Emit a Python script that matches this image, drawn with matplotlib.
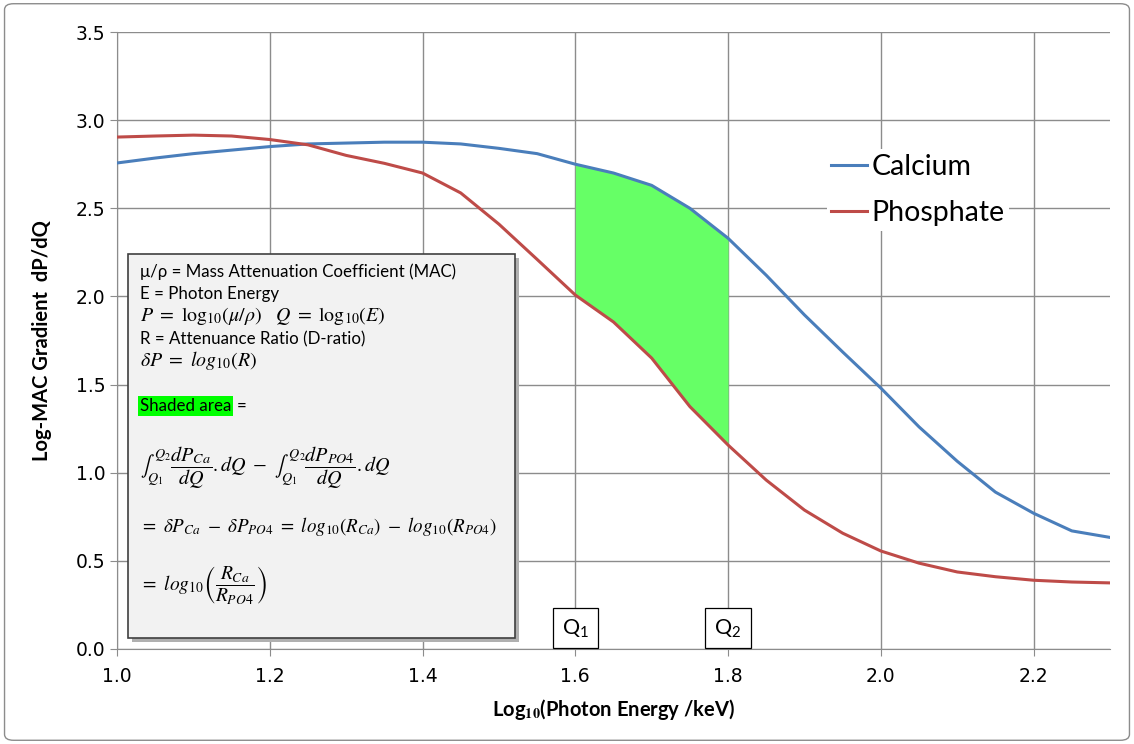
import numpy as np
import matplotlib
matplotlib.use('Agg')
import matplotlib.pyplot as plt
from matplotlib.patches import Rectangle, FancyBboxPatch

# log10 photon energy (keV)
q = [1.00, 1.05, 1.10, 1.15, 1.20, 1.25, 1.30, 1.35, 1.40, 1.45, 1.50, 1.55,
     1.60, 1.65, 1.70, 1.75, 1.80, 1.85, 1.90, 1.95, 2.00, 2.05, 2.10, 2.15,
     2.20, 2.25, 2.30]
calcium = [2.757, 2.785, 2.81, 2.83, 2.85, 2.865, 2.87, 2.875, 2.875, 2.865,
           2.84, 2.81, 2.75, 2.70, 2.63, 2.50, 2.33, 2.12, 1.895, 1.685, 1.48,
           1.26, 1.065, 0.89, 0.77, 0.67, 0.633]
phosphate = [2.904, 2.91, 2.915, 2.91, 2.89, 2.86, 2.80, 2.755, 2.70, 2.587,
             2.41, 2.21, 2.008, 1.855, 1.65, 1.375, 1.157, 0.958, 0.788,
             0.657, 0.556, 0.487, 0.437, 0.41, 0.39, 0.38, 0.375]
q1, q2 = 1.6, 1.8

blue = '#4a7ebb'
red = '#be4b48'

plt.rcParams['mathtext.fontset'] = 'stix'
plt.rcParams['font.family'] = ['Lato', 'DejaVu Sans']

fig = plt.figure(figsize=(11.34, 7.44), dpi=100)
ax = fig.add_axes([117 / 1134, 95 / 744, 993 / 1134, 617 / 744])

# outer chart border
fig.patches.append(FancyBboxPatch((0.004, 0.005), 0.992, 0.99, boxstyle='round,pad=0,rounding_size=0.008',
                                  transform=fig.transFigure, fill=False, edgecolor='#8c8c8c', lw=1.0))

qa = np.array(q)
ca = np.array(calcium)
pa = np.array(phosphate)
m = (qa >= q1 - 1e-9) & (qa <= q2 + 1e-9)
ax.fill_between(qa[m], pa[m], ca[m], color='#66ff66', lw=0, zorder=2)

ax.plot(q, calcium, color=blue, lw=2.2, label='Calcium', zorder=3)
ax.plot(q, phosphate, color=red, lw=2.2, label='Phosphate', zorder=3)

ax.set_xlim(1.0, 2.3)
ax.set_ylim(0, 3.5)
ax.set_xticks(np.arange(1.0, 2.21, 0.2))
ax.set_yticks(np.arange(0, 3.51, 0.5))
ax.xaxis.set_major_formatter(matplotlib.ticker.FormatStrFormatter('%.1f'))
ax.yaxis.set_major_formatter(matplotlib.ticker.FormatStrFormatter('%.1f'))
ax.grid(True, color='#8c8c8c', lw=1.0, zorder=0)
ax.set_axisbelow(True)
for s in ['top', 'right']:
    ax.spines[s].set_visible(False)
for s in ['left', 'bottom']:
    ax.spines[s].set_color('#8c8c8c')
ax.tick_params(axis='both', colors='#8c8c8c', labelcolor='black', labelsize=13.5, length=5, direction='out')
ax.tick_params(axis='x', pad=8)
for lbl in ax.get_xticklabels() + ax.get_yticklabels():
    lbl.set_family('DejaVu Sans')

ax.set_xlabel(r'Log$_{\mathbf{10}}$(Photon Energy /keV)', fontsize=14.5, fontweight='bold', labelpad=8)
ax.set_ylabel('Log-MAC Gradient  dP/dQ', fontsize=14.5, fontweight='bold', labelpad=17)

leg = ax.legend(loc='upper left', bbox_to_anchor=(0.715, 0.81), frameon=True,
                framealpha=1, edgecolor='none', facecolor='white', handlelength=1.25,
                handletextpad=0.15, labelspacing=0.73, borderpad=0.15, borderaxespad=0,
                prop={'family': 'Lato', 'size': 20.5})
leg.get_frame().set_boxstyle('square', pad=0)

# Q1 / Q2 markers
for xq, lab in [(q1, 'Q$_\\mathregular{1}$'), (q2, 'Q$_\\mathregular{2}$')]:
    ax.text(xq, 0.12, lab, ha='center', va='center', fontsize=15.5, zorder=6,
            bbox=dict(boxstyle='square', pad=0.42, facecolor='white', edgecolor='black', lw=0.9))

# explanation box (axes coordinates)
def ax_xy(px, py):
    return (px - 117) / 993, (649 - py) / 617

x0, y0 = ax_xy(128, 638)
x1, y1 = ax_xy(515, 254)
ax.add_patch(Rectangle((x0 + 0.004, y0 - 0.007), x1 - x0, y1 - y0, transform=ax.transAxes,
                       facecolor='#b0b0b0', edgecolor='none', zorder=4))
ax.add_patch(Rectangle((x0, y0), x1 - x0, y1 - y0, transform=ax.transAxes,
                       facecolor='#f2f2f2', edgecolor='#404040', lw=1.2, zorder=5))

tx = ax_xy(140, 0)[0]
plain = [
    (272, 'μ/ρ = Mass Attenuation Coefficient (MAC)'),
    (294, 'E = Photon Energy'),
    (339, 'R = Attenuance Ratio (D-ratio)'),
]
for py, s in plain:
    ax.text(tx, ax_xy(0, py)[1], s, transform=ax.transAxes, fontsize=12.2,
            va='center', ha='left', zorder=6)
maths = [
    (316, r'$P\ =\ \mathrm{log}_{10}(\mu/\rho)\ \ \ Q\ =\ \mathrm{log}_{10}(E)$'),
    (361, r'$\delta P\ =\ log_{10}(R)$'),
]
for py, s in maths:
    ax.text(tx, ax_xy(0, py)[1], s, transform=ax.transAxes, fontsize=14.3,
            va='center', ha='left', zorder=6)

ax.text(tx, ax_xy(0, 406)[1], 'Shaded area', transform=ax.transAxes, fontsize=12.2,
        va='center', ha='left', zorder=6,
        bbox=dict(boxstyle='square', pad=0.12, facecolor='#00ff00', edgecolor='none'))
ax.text(ax_xy(237, 0)[0], ax_xy(0, 406)[1], '=', transform=ax.transAxes, fontsize=12.2,
        va='center', ha='left', zorder=6)

ax.text(tx, ax_xy(0, 468)[1],
        r'$\int_{Q_1}^{Q_2}\dfrac{dP_{Ca}}{dQ}.dQ\ -\ \int_{Q_1}^{Q_2}\dfrac{dP_{PO4}}{dQ}.dQ$',
        transform=ax.transAxes, fontsize=14.5, va='center', ha='left', zorder=6)
ax.text(tx, ax_xy(0, 527)[1],
        r'$=\ \delta P_{Ca}\ -\ \delta P_{PO4}\ =\ log_{10}(R_{Ca})\ -\ log_{10}(R_{PO4})$',
        transform=ax.transAxes, fontsize=13.7, va='center', ha='left', zorder=6)
ax.text(tx, ax_xy(0, 585)[1],
        r'$=\ log_{10}\left(\dfrac{R_{Ca}}{R_{PO4}}\right)$',
        transform=ax.transAxes, fontsize=14, va='center', ha='left', zorder=6)

fig.savefig('out.png', dpi=100)
